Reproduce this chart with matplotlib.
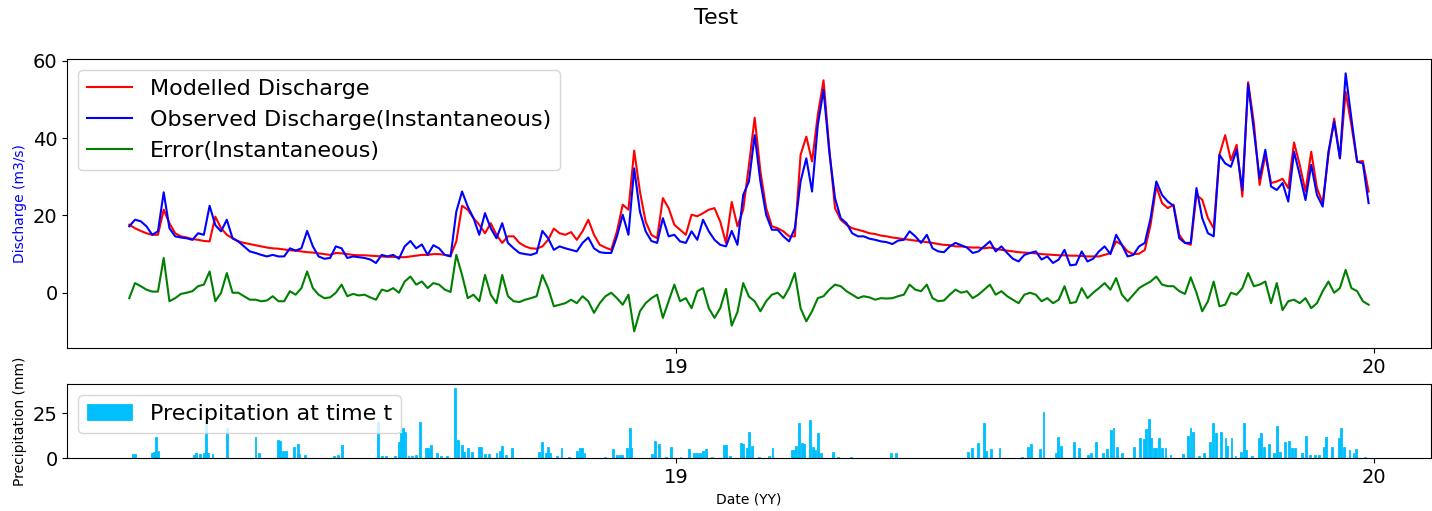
import numpy as np
import pandas as pd
import matplotlib
matplotlib.use('Agg')
import matplotlib.pyplot as plt
import matplotlib.dates as mdates
from matplotlib.ticker import MultipleLocator

# discharge series, one value every 3 days from start_date
start_date = pd.Timestamp('2018-03-21')
step_days = 3

modelled = [
    17.6, 16.7, 16.0, 15.4, 15.0, 15.0, 21.5, 18.0, 15.4, 14.6,
    14.3, 13.9, 13.7, 13.4, 13.3, 19.7, 16.7, 15.0, 14.1, 13.3,
    12.9, 12.6, 12.3, 12.0, 11.7, 11.5, 11.4, 11.2, 11.0, 10.9,
    10.7, 10.5, 10.4, 10.2, 10.0, 9.8,
    10.3, 10.2, 10.0, 9.8, 9.7, 9.7, 9.6, 9.5, 9.4, 9.3,
    9.3, 9.2, 9.2, 9.4, 9.6, 9.8, 9.8, 10.0, 10.0, 9.8,
    9.6, 13.3, 22.5, 21.5, 19.3, 17.6, 15.4, 18.0, 15.0, 12.9,
    14.6, 14.6, 12.9, 12.0, 11.5, 11.4,
    12.0, 13.7, 16.6, 15.4, 15.0, 15.7, 13.7, 15.9, 18.9, 15.0,
    12.4, 11.7, 11.1, 15.9, 22.8, 21.5, 36.8, 26.2, 18.4, 15.0,
    14.1, 24.5, 21.9, 17.6, 16.3, 15.0, 20.2, 19.8, 20.6, 21.5,
    21.9, 18.4, 12.9, 23.5, 17.2, 21.5, 33.0,
    45.3, 31.4, 21.9, 17.2, 16.7, 15.9, 14.6, 14.6, 35.7, 40.4,
    34.0, 46.0, 55.0, 37.4, 21.9, 18.9, 17.6, 16.7, 16.3, 15.9,
    15.4, 15.2, 14.8, 14.6, 14.3, 14.1, 13.9, 13.7, 13.5, 13.3,
    13.1, 12.9, 12.6, 12.4, 12.3, 12.0,
    12.0, 11.8, 11.7, 11.7, 11.5, 11.7, 11.4, 11.1, 10.9, 10.7,
    10.5, 10.4, 10.3, 10.2, 10.0, 9.9, 9.8, 9.7, 9.7, 9.6,
    9.6, 9.5, 9.4, 9.4, 9.4, 9.8, 10.3, 13.3, 12.4, 10.7,
    10.0, 10.1, 11.1, 17.6, 27.5, 23.2, 21.9,
    22.8, 15.0, 12.9, 12.4, 25.3, 24.1, 19.3, 16.7, 35.7, 40.8,
    34.3, 38.3, 24.9, 54.5, 44.0, 27.9, 35.7, 28.4, 28.8, 29.5,
    27.1, 38.9, 33.1, 26.2, 36.5, 27.1, 23.2, 35.7, 45.1, 34.8,
    52.0, 43.4, 33.9, 34.1, 26.2,
]

observed = [
    17.2, 18.9, 18.5, 17.2, 15.0, 15.9, 26.0, 16.7, 14.6, 14.3,
    14.1, 13.7, 15.4, 15.0, 22.5, 17.5, 15.9, 18.9, 14.1, 13.3,
    12.0, 10.7, 10.3, 9.8, 9.4, 9.8, 9.4, 9.4, 11.5, 10.9,
    11.5, 16.0, 12.0, 9.4, 8.8, 9.0,
    12.0, 11.5, 9.0, 9.4, 9.2, 9.0, 8.6, 7.7, 9.8, 9.4,
    9.8, 8.8, 12.0, 13.4, 11.5, 12.5, 9.8, 12.3, 11.5, 9.8,
    9.4, 21.0, 26.2, 22.3, 19.3, 15.0, 20.6, 16.7, 14.1, 18.0,
    12.9, 11.5, 10.3, 10.0, 9.8, 10.3,
    16.0, 14.1, 11.1, 12.0, 11.5, 11.1, 10.7, 12.9, 14.3, 11.5,
    10.5, 10.3, 10.3, 14.6, 20.2, 15.0, 32.2, 21.0, 15.9, 13.4,
    12.9, 19.3, 14.6, 15.0, 13.3, 12.9, 15.9, 13.7, 18.9, 15.9,
    13.7, 12.4, 12.0, 16.0, 12.4, 25.3, 28.8,
    40.8, 28.8, 20.2, 16.3, 16.3, 14.6, 13.3, 16.7, 28.8, 34.8,
    26.2, 43.4, 52.5, 36.5, 24.5, 19.3, 18.0, 15.4, 14.6, 14.6,
    14.0, 13.7, 13.3, 13.1, 12.6, 13.5, 13.7, 15.9, 14.6, 12.9,
    15.0, 11.5, 10.7, 10.5, 12.0, 12.9,
    12.3, 11.7, 10.3, 10.7, 12.0, 13.3, 10.7, 12.0, 10.3, 8.8,
    8.1, 9.8, 10.3, 10.7, 8.6, 9.4, 7.7, 8.6, 11.1, 7.1,
    7.3, 10.7, 8.1, 8.8, 10.7, 12.0, 10.0, 15.0, 12.4, 9.4,
    9.8, 12.0, 12.9, 19.3, 28.8, 25.3, 23.6,
    22.5, 14.1, 12.9, 12.9, 27.1, 19.3, 15.4, 14.6, 35.7, 33.5,
    32.6, 37.0, 26.6, 54.0, 42.0, 29.6, 37.0, 27.5, 26.6, 28.4,
    23.6, 36.5, 30.5, 24.0, 33.1, 25.3, 22.3, 36.5, 44.3, 34.8,
    56.8, 45.1, 33.9, 33.5, 23.2,
]

error = [
    -1.4, 2.5, 1.7, 0.8, 0.3, 0.3, 9.0, -2.2, -1.4, -0.3,
    0.0, 0.4, 1.7, 2.1, 5.5, -2.2, 0.0, 5.1, 0.0, 0.0,
    -0.9, -1.8, -1.8, -2.2, -2.0, -0.9, -2.2, -2.2, 0.4, -0.5,
    1.2, 5.5, 1.2, -0.5, -1.4, -1.2,
    0.0, 2.1, -0.9, -0.3, -0.7, -0.5, -1.2, -1.8, 0.8, 0.4,
    1.2, 0.0, 2.9, 4.2, 2.1, 2.9, 1.2, 2.5, 2.1, 0.8,
    0.2, 9.8, 4.6, -1.4, -0.5, -2.2, 4.6, -0.5, -2.7, 4.6,
    -0.9, -2.2, -2.4, -1.8, -1.4, -0.9,
    4.6, 1.2, -3.5, -3.1, -2.7, -1.8, -2.7, -0.9, -2.2, -5.2,
    -2.7, -0.9, 0.0, -1.4, -3.1, -0.5, -10.0, -4.8, -2.7, -1.4,
    -0.5, -6.5, -2.2, 2.1, -2.2, -1.4, -4.0, 0.4, 1.2, -4.0,
    -6.5, -4.0, 1.0, -8.5, -5.0, 2.5, -1.0,
    -2.2, -4.8, -2.2, -0.5, 0.0, -1.4, 1.2, 5.1, -4.0, -7.4,
    -4.8, -1.4, -0.9, 0.8, 2.1, 1.7, 0.4, -0.5, -1.4, -0.9,
    -1.2, -1.8, -1.4, -1.5, -1.4, -0.9, -0.5, 2.1, 0.8, 0.4,
    2.1, -1.4, -2.2, -2.0, -0.5, 0.8,
    0.0, 0.4, -1.4, -0.5, 0.8, 2.1, -0.5, 0.4, -0.9, -1.8,
    -2.7, -0.5, 0.0, -0.5, -2.2, -1.4, -2.7, -1.8, 1.7, -2.7,
    -2.4, 1.2, -1.4, 0.0, 1.2, 2.5, 0.8, 3.8, -0.5, -2.2,
    -0.5, 1.2, 2.1, 2.9, 4.2, 2.1, 1.7,
    1.7, 0.4, -0.3, 4.0, 0.0, -4.8, -2.2, 2.9, -3.5, -3.1,
    0.0, -0.5, 1.2, 5.1, 1.7, 2.1, 2.9, -2.7, 2.5, -4.5,
    -2.2, -1.8, -2.7, -1.4, -4.0, -2.7, 0.4, 2.9, 0.0, 1.2,
    5.9, 1.2, 0.4, -2.2, -3.1,
]

# rain events: days after start_date and amount in mm
precip_day = [
    2, 3, 12, 13, 14, 15, 34, 35, 37, 39, 40, 41, 43.5, 51, 66, 68, 78, 79,
    80.5, 82, 86, 88, 89, 92, 107, 109, 111, 130, 132, 134, 139, 141, 142,
    143, 144, 146, 148, 150, 152, 155, 156, 157, 158, 161, 163, 166, 170.5,
    172, 174, 175, 177, 179, 183, 184, 186, 188, 192, 194, 195, 197, 200,
    214.3, 216, 217.8, 219, 220, 223.5, 226, 229.8, 234.3, 235.7, 236.9, 238,
    248.6, 253, 255, 256.5, 257.8, 260.4, 261.6, 262.6, 273.4, 275.1, 276.9,
    280.4, 283.3, 288.2, 292.5, 295.1, 296.8, 298.6, 300, 301.7, 304.7,
    310.8, 312.2, 314.2, 320, 320.8, 322.9, 324.1, 325.5, 329.5, 334.4,
    336.3, 346.4, 347.6, 348.5, 350.4, 351.6, 352.8, 356, 357.3, 358.5,
    359.9, 361.5, 368, 370.7, 377.6, 398.5, 401.1,
    438.5, 440.6, 443.7, 446.7, 448.1, 450.7, 455, 466.8, 469.8, 471.5,
    476.2, 478, 484.6, 485.8, 487.2, 494.1, 496.7, 501.1, 502.8, 505.7,
    508.9, 511.1, 513.2, 514.6, 516.3, 518.9, 525.3, 528.3, 530.6, 531.8,
    533.2, 534.4, 535.8, 537, 538.3, 540.1, 541.8, 544.4, 551, 553.7,
    554.9, 556.1, 559.2, 561.8, 565, 566.6, 568, 570.6, 573.2, 574.2,
    576.3, 578.4, 581.4, 582.7, 584.1, 587.1, 590.5, 591.9, 593.1, 596.1,
    598.7, 600, 601.5, 604.4, 606.2, 607.9, 609.7, 613.2, 615.2, 617.5,
    620.1, 621.9, 624.5, 625.9, 628.8, 632.3, 633.5, 634.9, 638, 640.1,
    641.3, 646.2,
]
precip_mm = [
    2.0, 2.2, 3.0, 3.5, 11.9, 4.0, 1.5, 2.6, 2.0, 3.0, 20.2, 3.0, 2.2, 16.5,
    11.9, 3.0, 10.0, 9.6, 4.0, 4.0, 6.3, 7.8, 2.5, 1.5, 1.0, 1.5, 7.0, 20.2,
    1.0, 1.0, 1.0, 9.1, 13.7, 16.5, 14.4, 1.0, 1.0, 1.5, 20.2, 5.4, 5.4, 4.5,
    7.2, 3.0, 1.0, 1.0, 39.3, 10.0, 7.2, 3.5, 5.7, 3.5, 5.9, 5.9, 2.2, 2.0,
    2.6, 4.0, 6.7, 1.7, 5.4,
    3.5, 9.1, 2.6, 5.9, 2.6, 1.3, 5.4, 0.8, 4.0, 5.4, 5.4, 3.0,
    0.8, 4.8, 1.8, 1.8, 1.8, 5.4, 16.5, 5.4, 2.2, 9.6, 7.8,
    0.8, 6.3, 0.8, 4.8, 2.6, 2.6, 2.6, 4.0, 4.8, 0.8,
    7.2, 7.2, 1.0, 8.1, 7.8, 5.4, 14.3, 6.7, 0.8, 1.0,
    5.4, 4.4, 4.4, 6.7, 19.3, 8.1, 7.8, 21.1, 6.3, 4.4,
    13.7, 2.6, 3.5, 0.8, 0.8, 2.6, 2.6,
    3.5, 5.4, 8.1, 19.3, 3.9, 4.8, 5.4, 0.8, 6.3, 7.6,
    4.8, 25.7, 3.0, 11.5, 6.7, 9.1, 5.4, 1.8, 2.6, 9.1,
    3.0, 4.8, 15.6, 16.9, 6.3, 2.6, 6.3, 10.9, 10.4, 16.1,
    22.0, 10.9, 5.4, 5.4, 10.9, 5.4, 5.4, 1.8, 2.2, 12.2,
    16.9, 14.3, 1.0, 2.6, 9.1, 19.3, 13.7, 14.3, 10.9, 6.9,
    10.9, 1.0, 3.5, 19.3, 4.4, 1.0, 10.9, 13.7, 6.3, 7.6,
    3.0, 17.8, 3.5, 9.1, 9.4, 5.4, 5.4, 2.6, 12.2, 1.5,
    1.5, 1.5, 6.3, 11.5, 6.3, 10.9, 16.9, 6.3, 4.4, 3.0,
    4.8, 0.8,
]

dates = start_date + pd.to_timedelta(np.arange(len(observed)) * step_days, unit='D')
rain_dates = start_date + pd.to_timedelta(precip_day, unit='D')

fig = plt.figure(figsize=(14.32, 5.11), dpi=100)
ax1 = fig.add_axes([0.047, 0.319, 0.952, 0.5655])
ax2 = fig.add_axes([0.047, 0.1037, 0.952, 0.1448])

ax1.plot(dates, modelled, color='red', label='Modelled Discharge')
ax1.plot(dates, observed, color='blue', label='Observed Discharge(Instantaneous)')
ax1.plot(dates, error, color='green', label='Error(Instantaneous)')
ax1.set_ylim(-14.3, 60.5)
ax1.yaxis.set_major_locator(MultipleLocator(20))
ax1.set_ylabel('Discharge (m3/s)', color='blue', fontsize=10)
ax1.legend(loc='upper left', fontsize=16)

# thin bars: draw edge in same colour so they don't fade out
ax2.bar(rain_dates, precip_mm, width=1.0, color='deepskyblue',
        edgecolor='deepskyblue', linewidth=0.6, label='Precipitation at time t')
ax2.set_xlim(ax1.get_xlim())
ax2.yaxis.set_major_locator(MultipleLocator(25))
ax2.set_ylabel('Precipitation (mm)', fontsize=10)
ax2.set_xlabel('Date (YY)', fontsize=10)
ax2.legend(loc='upper left', fontsize=16)

for ax in (ax1, ax2):
    ax.xaxis.set_major_locator(mdates.YearLocator())
    ax.xaxis.set_major_formatter(mdates.DateFormatter('%y'))
    ax.tick_params(labelsize=14)

fig.suptitle('Test', fontsize=16, y=0.985)
fig.savefig('out.png', dpi=100)
